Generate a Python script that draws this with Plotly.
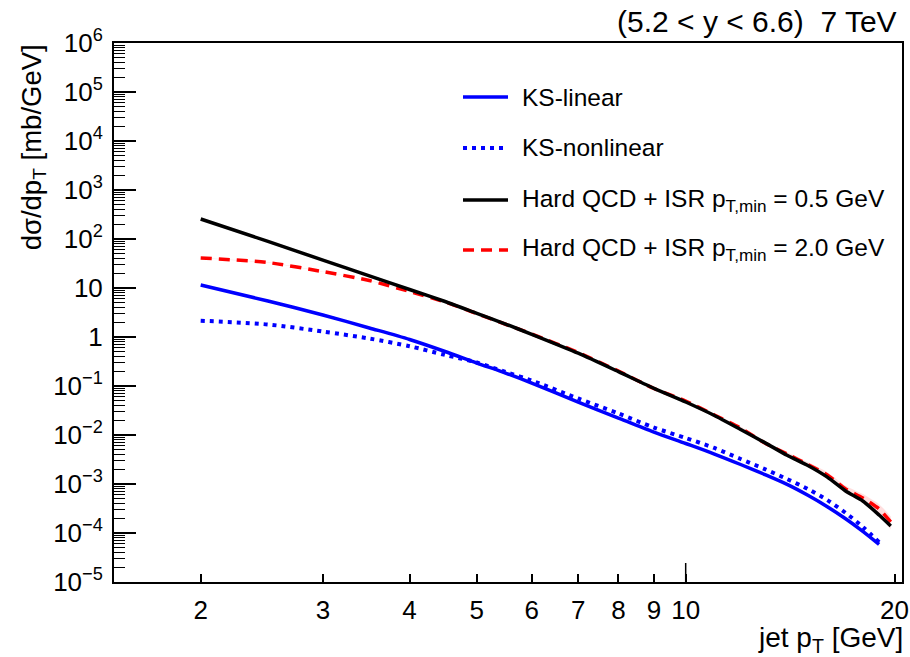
import plotly.graph_objects as go
import math

# ---- data -----------------------------------------------------------------
pt_pythia = [2, 2.5, 3, 3.5, 4, 4.5, 5, 5.5, 6, 7, 8, 9, 10, 11, 12, 13, 14,
             15, 16, 17, 18, 19, 19.75]
hard_qcd_05 = [256, 89.3, 37.1, 17.7, 9.31, 5.30, 3.04, 1.84, 1.135, 0.467,
               0.196, 0.0893, 0.0471, 0.0250, 0.01294, 0.0070, 0.00385,
               0.00238, 0.00138, 0.00072, 0.00045, 0.000233, 0.000139]
hard_qcd_20 = [41.0, 33.1, 21.6, 14.2, 8.49, 5.18, 3.0, 1.82, 1.15, 0.483,
               0.202, 0.0889, 0.0494, 0.0256, 0.0139, 0.00687, 0.00409,
               0.0025, 0.00153, 0.00079, 0.00052, 0.00031, 0.000168]
hard_qcd_20_relerr = [0.01, 0.01, 0.01, 0.01, 0.01, 0.01, 0.02, 0.02, 0.02,
                      0.03, 0.03, 0.04, 0.05, 0.06, 0.07, 0.08, 0.10, 0.12,
                      0.14, 0.17, 0.20, 0.25, 0.30]

pt_ks = [2, 2.5, 3, 3.5, 4, 4.5, 5, 5.5, 6, 7, 8, 9, 10, 11, 12, 13, 14, 15,
         16, 17, 18, 19]
ks_linear = [11.5, 5.43, 2.81, 1.53, 0.889, 0.506, 0.294, 0.184, 0.115,
             0.0471, 0.0222, 0.0115, 0.00671, 0.00409, 0.0025, 0.00156,
             0.00098, 0.000588, 0.000344, 0.000195, 0.000108, 5.85e-5]
ks_nonlinear = [2.15, 1.80, 1.29, 0.931, 0.649, 0.430, 0.302, 0.193, 0.129,
                0.0556, 0.0275, 0.0142, 0.00869, 0.00543, 0.00324, 0.00202,
                0.00126, 0.00079, 0.000469, 0.000257, 0.000133, 6.5e-5]

x_ticks = [2, 3, 4, 5, 6, 7, 8, 9, 10, 20]
x_ticktext = ["2", "3", "4", "5", "6", "7", "8", "9", "10", "20"]
y_decades = list(range(-5, 7))
x_range = [1.5, 20.5]
y_range = [1e-5, 1e6]

FONT = "Liberation Sans, Arial, Helvetica, sans-serif"
BLUE = "#0000ff"
RED = "#ff0000"

fig = go.Figure()

# uncertainty band on the pT,min = 2.0 GeV curve
band_hi = [v * (1 + e) for v, e in zip(hard_qcd_20, hard_qcd_20_relerr)]
band_lo = [v * (1 - e) for v, e in zip(hard_qcd_20, hard_qcd_20_relerr)]
fig.add_trace(go.Scatter(x=pt_pythia, y=band_lo, mode="lines",
                         line=dict(width=0, shape="spline", smoothing=0.6),
                         showlegend=False, hoverinfo="skip"))
fig.add_trace(go.Scatter(x=pt_pythia, y=band_hi, mode="lines", fill="tonexty",
                         fillcolor="rgba(255,0,0,0.13)",
                         line=dict(width=0, shape="spline", smoothing=0.6),
                         showlegend=False, hoverinfo="skip"))

fig.add_trace(go.Scatter(x=pt_ks, y=ks_linear, mode="lines", name="KS-linear",
                         line=dict(color=BLUE, width=3.5, shape="spline", smoothing=0.8)))
fig.add_trace(go.Scatter(x=pt_ks, y=ks_nonlinear, mode="lines", name="KS-nonlinear",
                         line=dict(color=BLUE, width=4, dash="4px,5px",
                                   shape="spline", smoothing=0.8)))
fig.add_trace(go.Scatter(x=pt_pythia, y=hard_qcd_20, mode="lines",
                         name="Hard QCD + ISR pT,min = 2.0 GeV",
                         line=dict(color=RED, width=3.5, dash="11px,7px",
                                   shape="spline", smoothing=0.6)))
fig.add_trace(go.Scatter(x=pt_pythia, y=hard_qcd_05, mode="lines",
                         name="Hard QCD + ISR pT,min = 0.5 GeV",
                         line=dict(color="black", width=3.5,
                                   shape="spline", smoothing=0.6)))

# ---- axes -------------------------------------------------------------------
y_tickvals = [10.0 ** p for p in y_decades]
y_ticktext = []
for p in y_decades:
    if p == 0:
        y_ticktext.append("1")
    elif p == 1:
        y_ticktext.append("10")
    else:
        y_ticktext.append("10<sup>%s</sup>" % (str(p).replace("-", "\u2212")))
y_minor = [k * 10.0 ** p for p in y_decades[:-1] for k in range(2, 10)]

fig.update_xaxes(type="log", range=[math.log10(x_range[0]), math.log10(x_range[1])],
                 tickmode="array", tickvals=x_ticks, ticktext=x_ticktext,
                 ticks="inside", ticklen=8, tickwidth=1.5, tickcolor="black",
                 showline=True, linecolor="black", linewidth=2, mirror=True,
                 showgrid=False, zeroline=False, ticklabelstandoff=4,
                 automargin=False,
                 tickfont=dict(family=FONT, size=26, color="black"))
fig.update_yaxes(type="log", range=[math.log10(y_range[0]), math.log10(y_range[1])],
                 tickmode="array", tickvals=y_tickvals, ticktext=y_ticktext,
                 ticks="inside", ticklen=22, tickwidth=1.5, tickcolor="black",
                 minor=dict(tickmode="array", tickvals=y_minor, ticks="inside",
                            ticklen=11, tickwidth=1.2, tickcolor="black"),
                 showline=True, linecolor="black", linewidth=2, mirror=True,
                 showgrid=False, zeroline=False, ticklabelstandoff=4,
                 automargin=False,
                 tickfont=dict(family=FONT, size=26, color="black"))

# longer tick at the decade on the x axis
lx0, lx1 = math.log10(x_range[0]), math.log10(x_range[1])
f10 = (1 - lx0) / (lx1 - lx0)
shapes = [dict(type="line", xref="paper", yref="paper", x0=f10, x1=f10,
               y0=0, y1=19 / 539, line=dict(color="black", width=1.5))]

# ---- legend -----------------------------------------------------------------
legend_rows = [
    ("KS-linear", BLUE, "solid", 3.5, 0.8998),
    ("KS-nonlinear", BLUE, "4px,5px", 4, 0.8052),
    ("Hard QCD + ISR p<sub>T,min</sub> = 0.5 GeV", "black", "solid", 3.5, 0.7087),
    ("Hard QCD + ISR p<sub>T,min</sub> = 2.0 GeV", RED, "11px,7px", 3.5, 0.616),
]
annotations = []
for text, color, dash, width, yy in legend_rows:
    shapes.append(dict(type="line", xref="paper", yref="paper", x0=0.4429, x1=0.5,
                       y0=yy, y1=yy, line=dict(color=color, width=width, dash=dash)))
    annotations.append(dict(text=text, xref="paper", yref="paper", x=0.5152, y=yy,
                            xanchor="left", yanchor="middle", showarrow=False,
                            font=dict(family=FONT, size=24.5, color="black")))

# ---- titles -----------------------------------------------------------------
annotations.append(dict(text="(5.2 &lt; y &lt; 6.6) \u00a07 TeV", xref="paper", yref="paper",
                        x=0.9962, y=1.039, xanchor="right", yanchor="middle",
                        showarrow=False, font=dict(family=FONT, size=30, color="black")))
annotations.append(dict(text="jet p<sub>T</sub> [GeV]", xref="paper", yref="paper",
                        x=1.004, y=-0.07, xanchor="right", yanchor="top",
                        showarrow=False, font=dict(family=FONT, size=28, color="black")))
annotations.append(dict(text="d\u03c3/dp<sub>T</sub> [mb/GeV]", xref="paper", yref="paper",
                        x=-0.127, y=1.002, xanchor="left", yanchor="top",
                        textangle=-90, showarrow=False,
                        font=dict(family=FONT, size=27.5, color="black")))

fig.update_layout(width=910, height=657,
                  margin=dict(l=114, r=8, t=43, b=75, autoexpand=False),
                  plot_bgcolor="white", paper_bgcolor="white",
                  showlegend=False, shapes=shapes, annotations=annotations)

fig.write_html("out.html")
